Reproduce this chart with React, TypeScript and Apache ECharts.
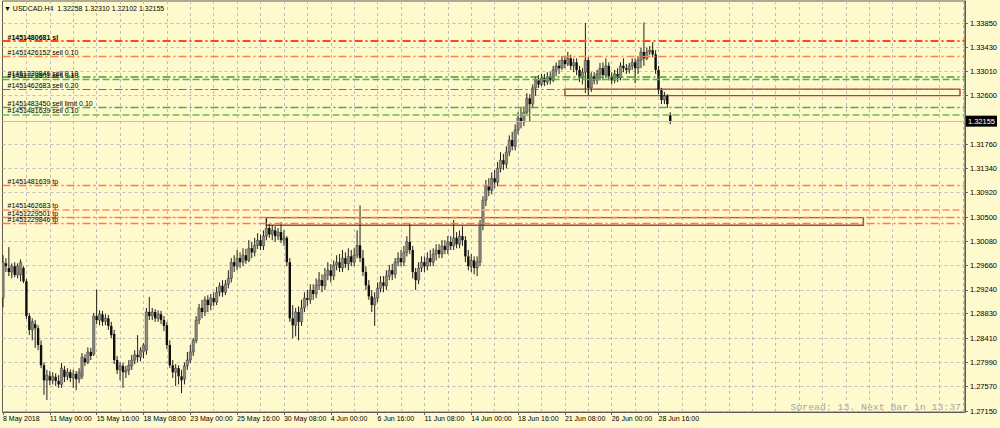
import React, { useEffect, useRef } from "react";
import * as echarts from "echarts";

// ---------- data ----------
const symbolHeader = "▼ USDCAD.H4  1.32258 1.32310 1.32102 1.32155";
const spreadText = "Spread: 13. Next Bar in 13:37";

// bar index of each time label (H4 bars, 16 bars apart)
const timeLabelIdx = [0, 16, 32, 48, 64, 80, 96, 112, 128, 144, 160, 176, 192, 208, 224];
const timeLabels = [
  "8 May 2018", "11 May 00:00", "15 May 16:00", "18 May 08:00", "23 May 00:00",
  "25 May 16:00", "30 May 08:00", "4 Jun 00:00", "6 Jun 16:00", "11 Jun 08:00",
  "14 Jun 00:00", "18 Jun 16:00", "21 Jun 08:00", "26 Jun 00:00", "28 Jun 16:00",
];
// vertical grid every 8 bars
const gridIdx = [8, 16, 24, 32, 40, 48, 56, 64, 72, 80, 88, 96, 104, 112, 120, 128, 136, 144, 152, 160, 168, 176, 184, 192, 200, 208, 216, 224, 232, 240, 248, 256, 264, 272, 280, 288, 296, 304, 312, 320, 328];

const priceTicks = [
  1.2715, 1.2757, 1.2799, 1.2841, 1.2883, 1.2924, 1.2966, 1.3008, 1.305,
  1.3092, 1.3134, 1.3176, 1.326, 1.3301, 1.3343, 1.3385,
];

const bidPrice = 1.32155;

// [open, high, low, close]
const bars: number[][] = [
  [1.2910,1.2984,1.2894,1.2972],[1.2970,1.2979,1.2955,1.2965],[1.2962,1.2998,1.2948,1.2955],[1.2955,1.2970,1.2944,1.2965],
  [1.2965,1.2972,1.2946,1.2950],[1.2950,1.2970,1.2944,1.2965],[1.2950,1.2977,1.2939,1.2972],[1.2962,1.2965,1.2936,1.2939],
  [1.2939,1.2943,1.2874,1.2879],[1.2879,1.2884,1.2846,1.2855],[1.2855,1.2875,1.2837,1.2869],[1.2865,1.2872,1.2824,1.2858],
  [1.2858,1.2863,1.2820,1.2829],[1.2829,1.2837,1.2789,1.2794],[1.2794,1.2799,1.2743,1.2768],[1.2768,1.2786,1.2734,1.2777],
  [1.2775,1.2784,1.2760,1.2768],[1.2768,1.2782,1.2761,1.2775],[1.2774,1.2780,1.2758,1.2767],[1.2767,1.2777,1.2755,1.2761],
  [1.2761,1.2798,1.2755,1.2789],[1.2786,1.2793,1.2765,1.2774],[1.2775,1.2789,1.2768,1.2782],[1.2782,1.2787,1.2765,1.2772],
  [1.2772,1.2786,1.2755,1.2779],[1.2779,1.2784,1.2751,1.2770],[1.2770,1.2789,1.2763,1.2782],[1.2775,1.2815,1.2770,1.2808],
  [1.2806,1.2813,1.2793,1.2799],[1.2799,1.2825,1.2796,1.2817],[1.2817,1.2824,1.2803,1.2810],[1.2813,1.2884,1.2810,1.2879],
  [1.2879,1.2925,1.2865,1.2872],[1.2872,1.2889,1.2863,1.2882],[1.2882,1.2888,1.2862,1.2869],[1.2870,1.2882,1.2863,1.2875],
  [1.2875,1.2881,1.2855,1.2862],[1.2862,1.2869,1.2841,1.2846],[1.2848,1.2855,1.2796,1.2803],[1.2803,1.2810,1.2779,1.2786],
  [1.2786,1.2799,1.2768,1.2793],[1.2793,1.2798,1.2755,1.2782],[1.2782,1.2793,1.2772,1.2786],[1.2786,1.2803,1.2777,1.2794],
  [1.2793,1.2812,1.2786,1.2803],[1.2803,1.2820,1.2796,1.2812],[1.2812,1.2846,1.2799,1.2808],[1.2808,1.2825,1.2801,1.2820],
  [1.2817,1.2832,1.2806,1.2829],[1.2820,1.2893,1.2812,1.2886],[1.2886,1.2912,1.2872,1.2879],[1.2879,1.2893,1.2872,1.2886],
  [1.2886,1.2891,1.2869,1.2875],[1.2875,1.2889,1.2869,1.2882],[1.2882,1.2888,1.2865,1.2872],[1.2872,1.2879,1.2853,1.2862],
  [1.2863,1.2869,1.2822,1.2829],[1.2829,1.2837,1.2789,1.2794],[1.2794,1.2803,1.2772,1.2782],[1.2782,1.2796,1.2758,1.2789],
  [1.2789,1.2794,1.2761,1.2775],[1.2775,1.2786,1.2746,1.2768],[1.2770,1.2799,1.2761,1.2793],[1.2793,1.2817,1.2786,1.2803],
  [1.2803,1.2829,1.2798,1.2817],[1.2817,1.2841,1.2810,1.2837],[1.2837,1.2879,1.2832,1.2872],[1.2872,1.2900,1.2865,1.2893],
  [1.2893,1.2907,1.2875,1.2886],[1.2886,1.2913,1.2879,1.2907],[1.2907,1.2915,1.2886,1.2898],[1.2898,1.2917,1.2889,1.2910],
  [1.2910,1.2920,1.2896,1.2903],[1.2903,1.2929,1.2898,1.2920],[1.2920,1.2937,1.2913,1.2931],[1.2931,1.2941,1.2912,1.2920],
  [1.2920,1.2941,1.2915,1.2934],[1.2934,1.2958,1.2927,1.2944],[1.2944,1.2979,1.2937,1.2972],[1.2972,1.2984,1.2955,1.2965],
  [1.2965,1.2993,1.2958,1.2979],[1.2979,1.2989,1.2962,1.2972],[1.2972,1.2996,1.2965,1.2984],[1.2984,1.2995,1.2969,1.2975],
  [1.2975,1.3010,1.2972,1.2996],[1.2996,1.3007,1.2979,1.2989],[1.2989,1.3014,1.2982,1.3001],[1.3001,1.3022,1.2995,1.3010],
  [1.3010,1.3020,1.2993,1.3000],[1.3000,1.3027,1.2993,1.3017],[1.3017,1.3048,1.3010,1.3031],[1.3031,1.3038,1.3014,1.3020],
  [1.3020,1.3036,1.3010,1.3027],[1.3027,1.3034,1.3007,1.3017],[1.3017,1.3031,1.3010,1.3024],[1.3024,1.3041,1.3005,1.3010],
  [1.3010,1.3027,1.3000,1.3014],[1.3014,1.3017,1.2965,1.2972],[1.2972,1.2979,1.2869,1.2875],[1.2875,1.2898,1.2841,1.2863],
  [1.2863,1.2893,1.2844,1.2886],[1.2886,1.2896,1.2837,1.2869],[1.2869,1.2907,1.2862,1.2893],[1.2893,1.2920,1.2886,1.2910],
  [1.2910,1.2924,1.2896,1.2907],[1.2907,1.2934,1.2900,1.2924],[1.2924,1.2934,1.2907,1.2917],[1.2917,1.2944,1.2910,1.2932],
  [1.2932,1.2955,1.2924,1.2941],[1.2941,1.2951,1.2920,1.2931],[1.2931,1.2962,1.2924,1.2950],[1.2950,1.2972,1.2941,1.2958],
  [1.2958,1.2969,1.2937,1.2948],[1.2948,1.2975,1.2941,1.2967],[1.2967,1.2984,1.2958,1.2972],[1.2972,1.2986,1.2955,1.2962],
  [1.2962,1.2993,1.2955,1.2979],[1.2979,1.2989,1.2962,1.2969],[1.2969,1.2996,1.2958,1.2982],[1.2982,1.2993,1.2965,1.2972],
  [1.2972,1.2996,1.2965,1.2984],[1.2984,1.3027,1.2979,1.3001],[1.3001,1.3070,1.2972,1.2979],[1.2979,1.2993,1.2948,1.2955],
  [1.2955,1.2965,1.2924,1.2932],[1.2932,1.2941,1.2907,1.2913],[1.2913,1.2924,1.2886,1.2898],[1.2898,1.2920,1.2862,1.2910],
  [1.2910,1.2937,1.2903,1.2927],[1.2927,1.2948,1.2920,1.2937],[1.2937,1.2948,1.2920,1.2931],[1.2931,1.2958,1.2924,1.2948],
  [1.2948,1.2967,1.2941,1.2958],[1.2958,1.2969,1.2941,1.2951],[1.2951,1.2979,1.2944,1.2972],[1.2972,1.2989,1.2965,1.2979],
  [1.2979,1.2993,1.2965,1.2972],[1.2972,1.3000,1.2965,1.2989],[1.2989,1.3017,1.2982,1.3007],[1.3007,1.3038,1.2986,1.2993],
  [1.2993,1.3000,1.2944,1.2955],[1.2955,1.2962,1.2924,1.2941],[1.2941,1.2972,1.2934,1.2962],[1.2962,1.2982,1.2955,1.2972],
  [1.2972,1.2982,1.2955,1.2965],[1.2965,1.2989,1.2958,1.2979],[1.2979,1.2993,1.2965,1.2972],[1.2972,1.2996,1.2965,1.2986],
  [1.2986,1.3003,1.2975,1.2993],[1.2993,1.3003,1.2979,1.2986],[1.2986,1.3010,1.2979,1.3000],[1.3000,1.3010,1.2986,1.2993],
  [1.2993,1.3017,1.2986,1.3007],[1.3007,1.3017,1.2993,1.3000],[1.3000,1.3045,1.2993,1.3014],[1.3014,1.3024,1.2996,1.3003],
  [1.3003,1.3027,1.2996,1.3017],[1.3017,1.3034,1.3000,1.3010],[1.3010,1.3017,1.2972,1.2982],[1.2982,1.2993,1.2958,1.2965],
  [1.2965,1.2986,1.2955,1.2975],[1.2975,1.2982,1.2951,1.2962],[1.2962,1.2982,1.2948,1.2972],[1.2972,1.3045,1.2965,1.3036],
  [1.3036,1.3086,1.3027,1.3079],[1.3079,1.3114,1.3069,1.3103],[1.3103,1.3117,1.3086,1.3096],[1.3096,1.3127,1.3089,1.3117],
  [1.3117,1.3131,1.3100,1.3110],[1.3110,1.3145,1.3103,1.3134],[1.3134,1.3162,1.3127,1.3148],[1.3148,1.3159,1.3131,1.3141],
  [1.3141,1.3172,1.3134,1.3162],[1.3162,1.3191,1.3155,1.3183],[1.3183,1.3197,1.3165,1.3172],[1.3172,1.3210,1.3165,1.3200],
  [1.3200,1.3231,1.3193,1.3221],[1.3221,1.3238,1.3203,1.3214],[1.3214,1.3241,1.3207,1.3231],[1.3231,1.3264,1.3224,1.3255],
  [1.3255,1.3262,1.3214,1.3245],[1.3245,1.3279,1.3238,1.3273],[1.3273,1.3293,1.3259,1.3286],[1.3286,1.3295,1.3273,1.3279],
  [1.3279,1.3297,1.3276,1.3290],[1.3290,1.3297,1.3276,1.3283],[1.3283,1.3300,1.3278,1.3292],[1.3292,1.3300,1.3279,1.3286],
  [1.3286,1.3311,1.3283,1.3304],[1.3304,1.3317,1.3293,1.3311],[1.3311,1.3321,1.3297,1.3307],[1.3307,1.3328,1.3304,1.3321],
  [1.3321,1.3328,1.3307,1.3314],[1.3314,1.3335,1.3311,1.3324],[1.3324,1.3330,1.3304,1.3311],[1.3311,1.3324,1.3300,1.3317],
  [1.3317,1.3324,1.3295,1.3304],[1.3304,1.3311,1.3283,1.3290],[1.3290,1.3307,1.3279,1.3300],[1.3300,1.3385,1.3264,1.3321],
  [1.3321,1.3326,1.3260,1.3273],[1.3273,1.3300,1.3266,1.3293],[1.3293,1.3300,1.3279,1.3286],[1.3286,1.3304,1.3279,1.3297],
  [1.3297,1.3316,1.3286,1.3307],[1.3307,1.3317,1.3286,1.3295],[1.3295,1.3324,1.3290,1.3311],[1.3311,1.3317,1.3286,1.3293],
  [1.3293,1.3300,1.3279,1.3286],[1.3286,1.3304,1.3281,1.3297],[1.3297,1.3307,1.3283,1.3290],[1.3290,1.3317,1.3286,1.3311],
  [1.3311,1.3324,1.3300,1.3307],[1.3307,1.3314,1.3297,1.3304],[1.3304,1.3316,1.3298,1.3311],[1.3311,1.3324,1.3304,1.3317],
  [1.3317,1.3324,1.3281,1.3307],[1.3307,1.3328,1.3297,1.3321],[1.3321,1.3342,1.3307,1.3335],[1.3335,1.3386,1.3311,1.3324],
  [1.3324,1.3342,1.3321,1.3335],[1.3335,1.3345,1.3330,1.3338],[1.3338,1.3352,1.3326,1.3331],[1.3331,1.3338,1.3297,1.3304],
  [1.3304,1.3311,1.3262,1.3269],[1.3269,1.3273,1.3245,1.3252],[1.3252,1.3266,1.3245,1.3259],[1.3259,1.3262,1.3238,1.3245],
  [1.32258,1.32310,1.32102,1.32155],
];

// trade level lines
const orderNames = [
  "#1451480681 sl",
  "#1451426152 sell 0.10",
  "#1451229846 sell 0.10",
  "#1451229501 sell 0.10",
  "#1451462683 sell 0.20",
  "#1451483450 sell limit 0.10",
  "#1451481639 sell 0.10",
  "#1451481639 tp",
  "#1451462683 tp",
  "#1451229501 tp",
  "#1451229846 tp",
];
const orderPrices = [1.33537, 1.33278, 1.32915, 1.32881, 1.32708, 1.32392, 1.32264, 1.31045, 1.30623, 1.30493, 1.30394];

// rectangles: [fromBar, toBar, topPrice, bottomPrice]
const boxes = [
  [192, 327, 1.32708, 1.32596],
  [90, 294, 1.30489, 1.30359],
];

// ---------- styles ----------
const FONT = "'Liberation Sans', Arial, sans-serif";
const BG = "#FFFACD";
const AXIS = "#5c5c5c";
const GRID = "#bdbdbd";
const DASHDOT = [8, 3, 2, 3];
const DASH = [7, 3];
const orderStyles = [
  { color: "#FF4A12", width: 1.8, type: DASHDOT, bold: true },
  { color: "#FF8048", width: 1.3, type: DASHDOT },
  { color: "#40A030", width: 1.7, type: DASHDOT },
  { color: "#5DB048", width: 1.4, type: DASH },
  { color: "#3A9A2C", width: 1.1, type: DASHDOT },
  { color: "#55A842", width: 1.3, type: DASHDOT },
  { color: "#8ECB6E", width: 2, type: DASH },
  { color: "#FF7A45", width: 1.3, type: DASHDOT },
  { color: "#FFA878", width: 2, type: DASH },
  { color: "#FF7A45", width: 1.3, type: DASHDOT },
  { color: "#FF7A45", width: 1.3, type: DASHDOT },
];

const X_MIN = -0.17;
const X_MAX = 328.68;

function buildOption() {
  const candleData = bars.map((b, i) => [i, b[0], b[1], b[2], b[3]]);

  const orderLines = orderNames.map((name, k) => {
    const st = orderStyles[k];
    return {
      yAxis: orderPrices[k],
      lineStyle: { color: st.color, width: st.width, type: st.type, opacity: 1 },
      label: {
        show: true,
        position: "insideStartTop",
        formatter: name,
        distance: [5, 0.5],
        fontSize: 7,
        fontFamily: FONT,
        fontWeight: st.bold ? "bold" : "normal",
        color: "#000",
      },
    };
  });

  const bidLine = {
    yAxis: bidPrice,
    lineStyle: { color: "#bdbdbd", width: 1, type: "solid" },
    label: {
      show: true,
      position: "end",
      formatter: bidPrice.toFixed(5),
      distance: 1,
      backgroundColor: "#000",
      color: "#fff",
      padding: [2, 2, 1, 2],
      fontSize: 7.5,
      fontFamily: FONT,
    },
  };

  return {
    animation: false,
    backgroundColor: BG,
    grid: {
      left: 2, top: 1, right: 32, bottom: 16,
      show: true, borderColor: AXIS, borderWidth: 1, backgroundColor: "transparent",
    },
    xAxis: [
      {
        type: "value", min: X_MIN, max: X_MAX, position: "bottom",
        axisLine: { show: true, onZero: false, lineStyle: { color: AXIS } },
        axisTick: { show: true, customValues: timeLabelIdx, length: 3, lineStyle: { color: AXIS } },
        axisLabel: {
          customValues: timeLabelIdx,
          formatter: (v: number) => {
            const k = timeLabelIdx.indexOf(Math.round(v));
            return k >= 0 ? timeLabels[k] : "";
          },
          align: "left", margin: 3, fontSize: 7, color: "#000", fontFamily: FONT,
        },
        splitLine: { show: false },
      },
      {
        type: "value", min: X_MIN, max: X_MAX, position: "top",
        axisLine: { show: false },
        axisTick: { show: false, customValues: gridIdx },
        axisLabel: { show: false },
        splitLine: { show: true, lineStyle: { color: GRID, type: [3, 3], width: 1 } },
      },
    ],
    yAxis: {
      type: "value", position: "right", min: 1.27133, max: 1.3423, scale: true,
      axisLine: { show: true, onZero: false, lineStyle: { color: AXIS } },
      axisTick: { show: true, customValues: priceTicks, length: 3, lineStyle: { color: AXIS } },
      axisLabel: {
        customValues: priceTicks,
        formatter: (v: number) => v.toFixed(5),
        margin: 5, fontSize: 7.5, color: "#000", fontFamily: FONT,
      },
      splitLine: { show: true, lineStyle: { color: GRID, type: [3, 3], width: 1 } },
    },
    series: [
      {
        type: "line",
        data: [],
        xAxisIndex: 0,
        yAxisIndex: 0,
        silent: true,
        z: 1,
        markLine: {
          symbol: ["none", "none"],
          silent: true,
          animation: false,
          precision: 5,
          data: [...orderLines, bidLine],
        },
        markArea: {
          silent: true,
          precision: 5,
          itemStyle: { color: "rgba(0,0,0,0)", borderColor: "#A8443A", borderWidth: 1.4 },
          data: boxes.map((b) => [
            { xAxis: b[0], yAxis: b[2] },
            { xAxis: b[1], yAxis: b[3] },
          ]),
        },
      },
      {
        type: "custom",
        xAxisIndex: 0,
        yAxisIndex: 0,
        z: 3,
        clip: true,
        silent: true,
        encode: { x: 0, y: [1, 2, 3, 4] },
        data: candleData,
        renderItem: (_params: any, api: any) => {
          const i = api.value(0);
          const o = api.value(1), h = api.value(2), l = api.value(3), c = api.value(4);
          const pO = api.coord([i, o]);
          const pH = api.coord([i, h]);
          const pL = api.coord([i, l]);
          const pC = api.coord([i, c]);
          const x = pO[0];
          const top = Math.min(pO[1], pC[1]);
          const bot = Math.max(pO[1], pC[1]);
          const bull = c >= o;
          return {
            type: "group",
            children: [
              {
                type: "line",
                shape: { x1: x, y1: pH[1], x2: x, y2: pL[1] },
                style: { stroke: "#1e1e1e", lineWidth: 1 },
              },
              {
                type: "rect",
                shape: { x: x - 1.2, y: top, width: 2.4, height: Math.max(bot - top, 0.8) },
                style: bull
                  ? { fill: "#8a8980", stroke: "#3a3a3a", lineWidth: 0.5 }
                  : { fill: "#0e0e0e" },
              },
            ],
          };
        },
      },
    ],
    graphic: [
      {
        type: "text", x: 4, y: 8,
        style: {
          text: symbolHeader, fill: "#000", font: `7px ${FONT}`,
          textAlign: "left", textVerticalAlign: "middle",
        },
      },
      {
        type: "text", x: 961, y: 407,
        style: {
          text: spreadText, fill: "#a6a6a6",
          font: "9.8px 'Liberation Mono', 'DejaVu Sans Mono', monospace",
          textAlign: "right", textVerticalAlign: "middle",
        },
      },
    ],
  };
}

export default function App() {
  const ref = useRef<HTMLDivElement>(null);
  useEffect(() => {
    if (!ref.current) return;
    const chart = echarts.init(ref.current, null, { renderer: "svg" });
    chart.setOption(buildOption() as any);
    return () => chart.dispose();
  }, []);
  return (
    <div
      ref={ref}
      style={{ position: "fixed", left: 0, top: 0, width: 1000, height: 428, background: BG }}
    />
  );
}
